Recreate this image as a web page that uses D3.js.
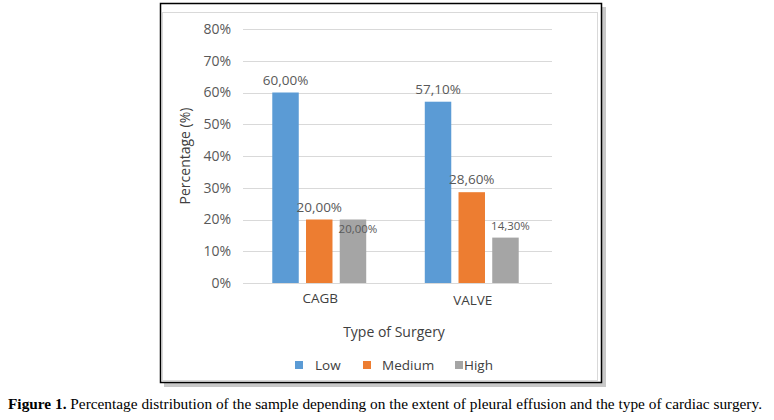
<!DOCTYPE html>
<html><head><meta charset="utf-8">
<script src="https://cdn.jsdelivr.net/npm/d3@7/dist/d3.min.js"></script>
<style>body{margin:0;background:#fff;} svg{display:block;}</style>
</head><body>
<svg id="c" width="774" height="420"></svg>
<script>
const categories = ["CAGB", "VALVE"];
const seriesNames = ["Low", "Medium", "High"];
const low = [60.0, 57.1];
const medium = [20.0, 28.6];
const high = [20.0, 14.3];
const labelsLow = ["60,00%", "57,10%"];
const labelsMedium = ["20,00%", "28,60%"];
const labelsHigh = ["20,00%", "14,30%"];
const yTicks = [0, 10, 20, 30, 40, 50, 60, 70, 80];
const colors = ["#5B9BD5", "#ED7D31", "#A5A5A5"];

const values = [low, medium, high];
const labels = [labelsLow, labelsMedium, labelsHigh];
const font = "'Open Sans', 'Noto Sans', sans-serif";
const txt = "#595959";

const svg = d3.select("#c");
// shadow + frame
svg.append("rect").attr("x", 164).attr("y", 7).attr("width", 442).attr("height", 380).attr("fill", "#9a9a9a").attr("opacity", 0.55);
svg.append("rect").attr("x", 160.5).attr("y", 3.5).attr("width", 441).attr("height", 379).attr("fill", "#fff").attr("stroke", "#000").attr("stroke-width", 1.5);
svg.append("rect").attr("x", 162.5).attr("y", 12.5).attr("width", 435).attr("height", 368).attr("fill", "none").attr("stroke", "#D9D9D9").attr("stroke-width", 1);

const y = d3.scaleLinear().domain([0, 80]).range([283, 29]);
const x0 = d3.scaleBand().domain(categories).range([243, 548]).paddingInner(0.384).paddingOuter(0.192);
const x1 = d3.scaleBand().domain(seriesNames).range([0, x0.bandwidth()]).paddingInner(0.215);

// gridlines
svg.append("g").selectAll("line").data(yTicks).join("line")
  .attr("x1", 243).attr("x2", 552)
  .attr("y1", d => Math.round(y(d)) + 0.5).attr("y2", d => Math.round(y(d)) + 0.5)
  .attr("stroke", "#D9D9D9").attr("stroke-width", 1);

// y tick labels
svg.append("g").selectAll("text").data(yTicks).join("text")
  .attr("x", 231).attr("y", d => y(d)).attr("dy", "0.35em")
  .attr("text-anchor", "end").attr("font-family", font).attr("font-size", 14)
  .attr("fill", txt).text(d => d + "%");

// bars
const groups = svg.append("g").selectAll("g").data(categories).join("g")
  .attr("transform", c => `translate(${x0(c)},0)`);
groups.selectAll("rect").data((c, ci) => seriesNames.map((s, si) => ({ s, si, v: values[si][ci], l: labels[si][ci] })))
  .join("rect")
  .attr("x", d => x1(d.s)).attr("width", x1.bandwidth())
  .attr("y", d => y(d.v)).attr("height", d => y(0) - y(d.v))
  .attr("fill", d => colors[d.si]);

// data labels
groups.selectAll("text").data((c, ci) => seriesNames.map((s, si) => ({ s, si, ci, v: values[si][ci], l: labels[si][ci] })))
  .join("text")
  .attr("x", d => x1(d.s) + x1.bandwidth() / 2 + (d.si === 2 ? 5 : 0))
  .attr("y", d => {
    if (d.si === 2 && d.ci === 0) return y(d.v) + 13;
    return y(d.v) - 8;
  })
  .attr("text-anchor", "middle").attr("font-family", font)
  .attr("font-size", d => d.si === 2 ? 11.5 : 13.5)
  .attr("fill", txt).text(d => d.l);

// category labels
svg.append("g").selectAll("text").data(categories).join("text")
  .attr("x", c => x0(c) + x0.bandwidth() / 2 + 1).attr("y", (c, i) => 303 + i * 2)
  .attr("text-anchor", "middle").attr("font-family", font).attr("font-size", 13.5)
  .attr("fill", "#404040").text(c => c);

// axis titles
svg.append("text").attr("x", 394).attr("y", 337).attr("text-anchor", "middle")
  .attr("font-family", font).attr("font-size", 14).attr("fill", "#404040").text("Type of Surgery");
svg.append("text").attr("transform", "translate(190,156) rotate(-90)").attr("text-anchor", "middle")
  .attr("font-family", font).attr("font-size", 14).attr("fill", "#404040").text("Percentage (%)");

// legend
const legendX = [295, 363, 455];
const legendTextX = [315, 382, 464];
const leg = svg.append("g").selectAll("g").data(seriesNames).join("g");
leg.append("rect").attr("x", (d, i) => legendX[i]).attr("y", 361).attr("width", 8).attr("height", 8)
  .attr("fill", (d, i) => colors[i]);
leg.append("text").attr("x", (d, i) => legendTextX[i]).attr("y", 365).attr("dy", "0.35em")
  .attr("font-family", font).attr("font-size", 13.5).attr("fill", "#404040").text(d => d);

// caption
const cap = svg.append("text").attr("x", 8).attr("y", 409)
  .attr("font-family", "'Liberation Serif', 'Times New Roman', serif").attr("font-size", 15).attr("fill", "#000")
  .attr("textLength", 754).attr("lengthAdjust", "spacingAndGlyphs");
cap.append("tspan").attr("font-weight", "bold").text("Figure 1.");
cap.append("tspan").text(" Percentage distribution of the sample depending on the extent of pleural effusion and the type of cardiac surgery.");
</script>
</body></html>
